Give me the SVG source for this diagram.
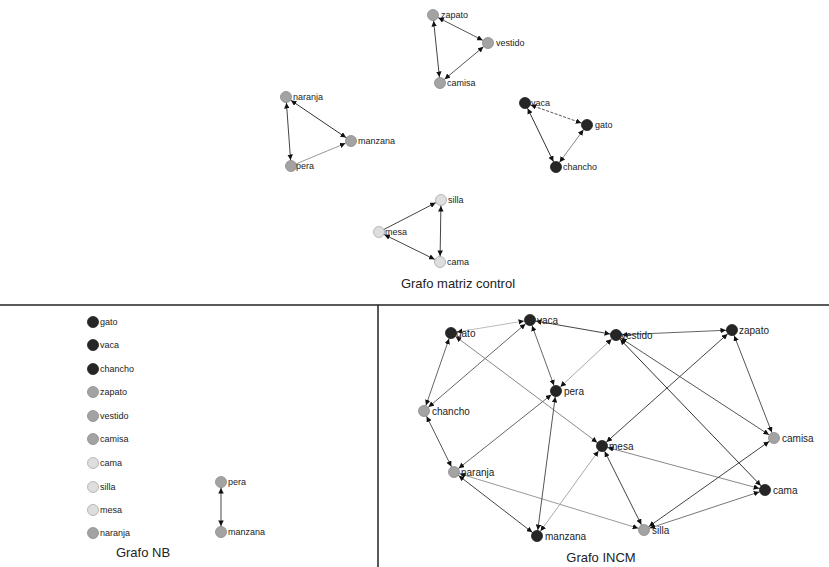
<svg xmlns="http://www.w3.org/2000/svg" width="829" height="567" viewBox="0 0 829 567">
<style>
text{font-family:"Liberation Sans",Arial,sans-serif;fill:#222}
.lb{font-size:9px}
.lbi{font-size:10px}
.ttl{font-size:13px;text-anchor:middle}
.dk{fill:#262626;stroke:#1a1a1a;stroke-width:0.8}
.gr{fill:#a3a3a3;stroke:#8a8a8a;stroke-width:0.8}
.lt{fill:#dedede;stroke:#a8a8a8;stroke-width:0.8}
.e{fill:none;stroke-width:1}
.b{marker-start:url(#ah);marker-end:url(#ah)}
.f{marker-end:url(#ah)}
.frame{stroke:#222;stroke-width:1.5;fill:none}
</style>
<defs>
<marker id="ah" viewBox="0 0 10 10" markerWidth="5.5" markerHeight="5.5" refX="21" refY="5" orient="auto-start-reverse" markerUnits="userSpaceOnUse">
<path d="M0,0 L10,5 L0,10 z" fill="#111"/>
</marker>
</defs>
<rect width="829" height="567" fill="#fff"/>
<g id="frame">
<line class="frame" x1="0" y1="305" x2="829" y2="305"/>
<line class="frame" x1="378" y1="305" x2="378" y2="567"/>
</g>
<g id="connectors">
<!-- control graph -->
<line class="e b" x1="433" y1="15" x2="488" y2="43" stroke="#555"/>
<line class="e b" x1="433" y1="15" x2="440" y2="83" stroke="#444"/>
<line class="e b" x1="440" y1="83" x2="488" y2="43" stroke="#555" stroke-width="1.6"/>
<line class="e b" x1="286" y1="97" x2="351" y2="141" stroke="#333" stroke-width="2"/>
<line class="e b" x1="286" y1="97" x2="291" y2="166" stroke="#444"/>
<line class="e f" x1="291" y1="166" x2="351" y2="141" stroke="#999" stroke-width="0.8"/>
<line class="e b" x1="525" y1="103" x2="587" y2="125" stroke="#555" stroke-width="0.8" stroke-dasharray="3,1.5"/>
<line class="e b" x1="525" y1="103" x2="556" y2="167" stroke="#333" stroke-width="2"/>
<line class="e b" x1="556" y1="167" x2="587" y2="125" stroke="#888" stroke-width="0.8"/>
<line class="e f" x1="379" y1="232" x2="441" y2="200" stroke="#444" stroke-width="1.3"/>
<line class="e b" x1="441" y1="200" x2="440" y2="262" stroke="#444"/>
<line class="e b" x1="379" y1="232" x2="440" y2="262" stroke="#444"/>
<!-- NB graph -->
<line class="e b" x1="221" y1="482" x2="221" y2="532" stroke="#444"/>
<!-- INCM graph -->
<line class="e b" x1="451" y1="333" x2="530" y2="320" stroke="#bbb" stroke-width="0.9"/>
<line class="e b" x1="451" y1="333" x2="424" y2="411" stroke="#666" stroke-width="1.3"/>
<line class="e b" x1="451" y1="333" x2="602" y2="446" stroke="#888" stroke-width="1.2"/>
<line class="e b" x1="530" y1="320" x2="616" y2="335" stroke="#444" stroke-width="1.5"/>
<line class="e b" x1="530" y1="320" x2="424" y2="411" stroke="#666" stroke-width="1.3"/>
<line class="e b" x1="530" y1="320" x2="556" y2="391" stroke="#666" stroke-width="1.3"/>
<line class="e b" x1="616" y1="335" x2="556" y2="391" stroke="#aaa" stroke-width="1.1"/>
<line class="e b" x1="616" y1="335" x2="732" y2="330" stroke="#666" stroke-width="1.5"/>
<line class="e b" x1="616" y1="335" x2="774" y2="438" stroke="#555" stroke-width="1.5"/>
<line class="e b" x1="616" y1="335" x2="765" y2="490" stroke="#333" stroke-width="1.5"/>
<line class="e b" x1="732" y1="330" x2="774" y2="438" stroke="#555" stroke-width="1.5"/>
<line class="e b" x1="732" y1="330" x2="602" y2="446" stroke="#444" stroke-width="1.5"/>
<line class="e b" x1="424" y1="411" x2="454" y2="472" stroke="#555" stroke-width="1.3"/>
<line class="e b" x1="454" y1="472" x2="556" y2="391" stroke="#666" stroke-width="1.4"/>
<line class="e b" x1="454" y1="472" x2="537" y2="536" stroke="#444" stroke-width="1.5"/>
<line class="e b" x1="454" y1="472" x2="644" y2="530" stroke="#999" stroke-width="0.9"/>
<line class="e b" x1="556" y1="391" x2="537" y2="536" stroke="#555" stroke-width="1.4"/>
<line class="e b" x1="602" y1="446" x2="537" y2="536" stroke="#aaa" stroke-width="1.1"/>
<line class="e b" x1="602" y1="446" x2="644" y2="530" stroke="#444" stroke-width="1.4"/>
<line class="e b" x1="602" y1="446" x2="765" y2="490" stroke="#888" stroke-width="1.4"/>
<line class="e b" x1="644" y1="530" x2="765" y2="490" stroke="#777" stroke-width="1.4"/>
<line class="e b" x1="644" y1="530" x2="774" y2="438" stroke="#444" stroke-width="1.5"/>
</g>
<!-- control graph nodes -->
<g id="c-zapato"><circle class="gr" cx="433" cy="15" r="5.5"/><text class="lb" x="441" y="18">zapato</text></g>
<g id="c-vestido"><circle class="gr" cx="488" cy="43" r="5.5"/><text class="lb" x="496" y="46">vestido</text></g>
<g id="c-camisa"><circle class="gr" cx="440" cy="83" r="5.5"/><text class="lb" x="447" y="86">camisa</text></g>
<g id="c-naranja"><circle class="gr" cx="286" cy="97" r="5.5"/><text class="lb" x="293" y="100">naranja</text></g>
<g id="c-manzana"><circle class="gr" cx="351" cy="141" r="5.5"/><text class="lb" x="358" y="144">manzana</text></g>
<g id="c-pera"><circle class="gr" cx="291" cy="166" r="5.5"/><text class="lb" x="296" y="169">pera</text></g>
<g id="c-vaca"><circle class="dk" cx="525" cy="103" r="5.5"/><text class="lb" x="531" y="106">vaca</text></g>
<g id="c-gato"><circle class="dk" cx="587" cy="125" r="5.5"/><text class="lb" x="595" y="128">gato</text></g>
<g id="c-chancho"><circle class="dk" cx="556" cy="167" r="5.5"/><text class="lb" x="563" y="170">chancho</text></g>
<g id="c-silla"><circle class="lt" cx="441" cy="200" r="5.5"/><text class="lb" x="448" y="203">silla</text></g>
<g id="c-mesa"><circle class="lt" cx="379" cy="232" r="5.5"/><text class="lb" x="385" y="235">mesa</text></g>
<g id="c-cama"><circle class="lt" cx="440" cy="262" r="5.5"/><text class="lb" x="447" y="265">cama</text></g>
<text class="ttl" x="458" y="288">Grafo matriz control</text>
<!-- NB graph nodes -->
<g id="nb-gato"><circle class="dk" cx="93" cy="322" r="5.5"/><text class="lb" x="100" y="325">gato</text></g>
<g id="nb-vaca"><circle class="dk" cx="93" cy="345" r="5.5"/><text class="lb" x="100" y="348">vaca</text></g>
<g id="nb-chancho"><circle class="dk" cx="93" cy="369" r="5.5"/><text class="lb" x="100" y="372">chancho</text></g>
<g id="nb-zapato"><circle class="gr" cx="93" cy="392" r="5.5"/><text class="lb" x="100" y="395">zapato</text></g>
<g id="nb-vestido"><circle class="gr" cx="93" cy="416" r="5.5"/><text class="lb" x="100" y="419">vestido</text></g>
<g id="nb-camisa"><circle class="gr" cx="93" cy="439" r="5.5"/><text class="lb" x="100" y="442">camisa</text></g>
<g id="nb-cama"><circle class="lt" cx="93" cy="463" r="5.5"/><text class="lb" x="100" y="466">cama</text></g>
<g id="nb-silla"><circle class="lt" cx="93" cy="487" r="5.5"/><text class="lb" x="100" y="490">silla</text></g>
<g id="nb-mesa"><circle class="lt" cx="93" cy="510" r="5.5"/><text class="lb" x="100" y="513">mesa</text></g>
<g id="nb-naranja"><circle class="gr" cx="93" cy="533" r="5.5"/><text class="lb" x="100" y="536">naranja</text></g>
<g id="nb-pera"><circle class="gr" cx="221" cy="482" r="5.5"/><text class="lb" x="228" y="485">pera</text></g>
<g id="nb-manzana"><circle class="gr" cx="221" cy="532" r="5.5"/><text class="lb" x="228" y="535">manzana</text></g>
<text class="ttl" x="143" y="557">Grafo NB</text>
<!-- INCM graph nodes -->
<g id="i-gato"><circle class="dk" cx="451" cy="333" r="5.5"/><text class="lbi" x="456" y="337">gato</text></g>
<g id="i-vaca"><circle class="dk" cx="530" cy="320" r="5.5"/><text class="lbi" x="537" y="324">vaca</text></g>
<g id="i-vestido"><circle class="dk" cx="616" cy="335" r="5.5"/><text class="lbi" x="621" y="339">vestido</text></g>
<g id="i-zapato"><circle class="dk" cx="732" cy="330" r="5.5"/><text class="lbi" x="739" y="334">zapato</text></g>
<g id="i-pera"><circle class="dk" cx="556" cy="391" r="5.5"/><text class="lbi" x="564" y="395">pera</text></g>
<g id="i-chancho"><circle class="gr" cx="424" cy="411" r="5.5"/><text class="lbi" x="432" y="415">chancho</text></g>
<g id="i-camisa"><circle class="gr" cx="774" cy="438" r="5.5"/><text class="lbi" x="782" y="442">camisa</text></g>
<g id="i-mesa"><circle class="dk" cx="602" cy="446" r="5.5"/><text class="lbi" x="609" y="450">mesa</text></g>
<g id="i-naranja"><circle class="gr" cx="454" cy="472" r="5.5"/><text class="lbi" x="461" y="476">naranja</text></g>
<g id="i-cama"><circle class="dk" cx="765" cy="490" r="5.5"/><text class="lbi" x="773" y="494">cama</text></g>
<g id="i-manzana"><circle class="dk" cx="537" cy="536" r="5.5"/><text class="lbi" x="545" y="540">manzana</text></g>
<g id="i-silla"><circle class="gr" cx="644" cy="530" r="5.5"/><text class="lbi" x="652" y="534">silla</text></g>
<text class="ttl" x="601" y="562">Grafo INCM</text>
</svg>
